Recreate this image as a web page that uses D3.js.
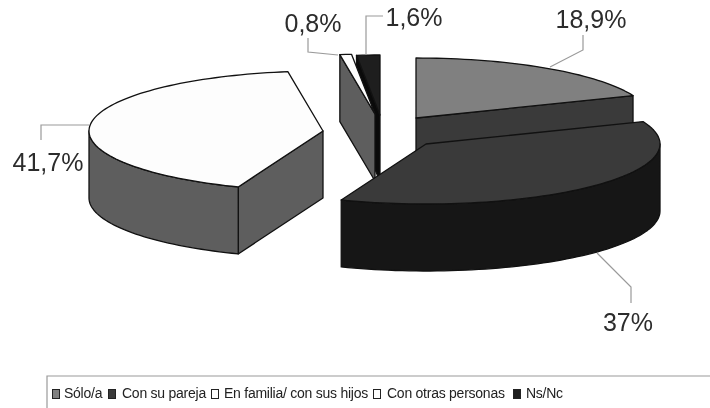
<!DOCTYPE html>
<html><head><meta charset="utf-8">
<script src="https://cdn.jsdelivr.net/npm/d3@7"></script>
<style>html,body{margin:0;background:#fff}svg{display:block;filter:blur(0.4px)}text{font-family:"Liberation Sans",Arial,sans-serif}</style>
</head><body><svg id="c" width="710" height="408"></svg>
<script>
const categories = ["Sólo/a","Con su pareja","En familia/ con sus hijos","Con otras personas","Ns/Nc"];
const values = [18.9,37,41.7,0.8,1.6];
const valueLabels = ["18,9%","37%","41,7%","0,8%","1,6%"];
const topColors = ["#808080","#3a3a3a","#fdfdfd","#fdfdfd","#1e1e1e"];
const sideColors = ["#3a3a3a","#161616","#5e5e5e","#5e5e5e","#0a0a0a"];
const legendColors = ["#808080","#3a3a3a","#ffffff","#ffffff","#1e1e1e"];
const apexes = [[416,118],[426,144],[323,131],[375,114],[380,115]];
const drawOrder = [2,4,3,0,1];

const rx = d3.scaleLinear().domain([0,1]).range([0,234]);
const ry = d3.scaleLinear().domain([0,1]).range([0,60]);
const depth = 67;
const svg = d3.select("#c");
const arcs = d3.pie().sort(null).value(d=>d).startAngle(0).endAngle(2*Math.PI)(values);

const pt = (i,a)=>[apexes[i][0]+rx(Math.sin(a)), apexes[i][1]-ry(Math.cos(a))];
const line = d3.line();
function rim(i,a0,a1){
  const n = Math.max(2,Math.ceil((a1-a0)/0.03));
  return d3.range(n+1).map(k=>pt(i,a0+(a1-a0)*k/n));
}
const poly = (pts,fill)=>svg.append("path").attr("d",line(pts)+"Z").attr("fill",fill)
  .attr("stroke","#111").attr("stroke-width",1.3).attr("stroke-linejoin","round");

drawOrder.forEach(i=>{
  const {startAngle:a0,endAngle:a1} = arcs[i];
  const ap = apexes[i], down = p=>[p[0],p[1]+depth];
  const face = a=>{const p=pt(i,a);poly([ap,p,down(p),down(ap)],sideColors[i]);};
  if(Math.sin(a0)<-1e-6) face(a0);
  if(Math.sin(a1)>1e-6) face(a1);
  const w0=Math.max(a0,Math.PI/2), w1=Math.min(a1,3*Math.PI/2);
  if(w1>w0){
    const r=rim(i,w0,w1);
    poly(r.concat(r.map(down).reverse()),sideColors[i]);
  }
  poly([ap].concat(rim(i,a0,a1)),topColors[i]);
});

const leaders = [
 [[550,67],[583,50],[583,35]],
 [[597,253],[631,287],[631,303]],
 [[89,125],[41,125],[41,140]],
 [[338,55],[308,52],[308,38]],
 [[366,55],[366,16],[383,16]]
];
leaders.forEach(l=>svg.append("path").attr("d",line(l)).attr("fill","none").attr("stroke","#9a9a9a").attr("stroke-width",1.2));
const labelPos = [[591,28],[628,331],[48,171],[313,32],[414,26]];
valueLabels.forEach((t,i)=>svg.append("text").attr("x",labelPos[i][0]).attr("y",labelPos[i][1])
  .attr("text-anchor","middle").attr("font-size",25).attr("fill","#2c2c2c").text(t));

svg.append("path").attr("d",line([[47,408],[47,376],[710,376]])).attr("fill","none").attr("stroke","#9a9a9a").attr("stroke-width",1.2);
const legendSwatch=[52,108,211,373,513], legendLabel=[64,122,224,387,526];
categories.forEach((t,i)=>{
  svg.append("rect").attr("x",legendSwatch[i]+.5).attr("y",389.5).attr("width",7).attr("height",9)
    .attr("fill",legendColors[i]).attr("stroke","#222").attr("stroke-width",1);
  svg.append("text").attr("x",legendLabel[i]).attr("y",398).attr("font-size",14)
    .attr("letter-spacing",-0.25).attr("fill","#222").text(t);
});
</script></body></html>
